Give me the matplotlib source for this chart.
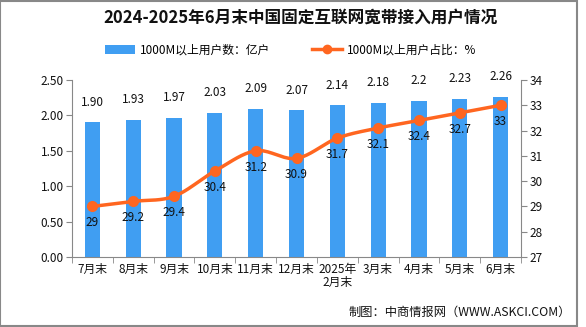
import matplotlib
matplotlib.use("Agg")
import matplotlib.pyplot as plt
import numpy as np
from matplotlib.patches import Rectangle
from matplotlib.lines import Line2D
from matplotlib.patches import Patch

plt.rcParams['font.family'] = ['Noto Sans CJK SC', 'DejaVu Sans']

categories = ["7月末", "8月末", "9月末", "10月末", "11月末", "12月末", "2025年\n2月末",
              "3月末", "4月末", "5月末", "6月末"]
users = [1.90, 1.93, 1.97, 2.03, 2.09, 2.07, 2.14, 2.18, 2.2, 2.23, 2.26]
user_labels = ["1.90", "1.93", "1.97", "2.03", "2.09", "2.07", "2.14", "2.18", "2.2", "2.23", "2.26"]
share = [29, 29.2, 29.4, 30.4, 31.2, 30.9, 31.7, 32.1, 32.4, 32.7, 33]
share_labels = ["29", "29.2", "29.4", "30.4", "31.2", "30.9", "31.7", "32.1", "32.4", "32.7", "33"]
left_ticks = [0.0, 0.5, 1.0, 1.5, 2.0, 2.5]
right_ticks = [27, 28, 29, 30, 31, 32, 33, 34]

bar_color = "#409EF2"
line_color = "#FF6620"
text_color = "#111111"

fig = plt.figure(figsize=(5.86, 3.27), dpi=100)
fig.patches.append(Rectangle((0, 0.003), 0.984, 0.994, transform=fig.transFigure,
                             fill=False, edgecolor="#888888", linewidth=1.5))

ax = fig.add_axes([72/586, 1-257/327, (521-72)/586, (257-80)/327])
x = np.arange(len(categories))
ax.bar(x, users, width=0.37, color=bar_color, zorder=2)
ax.set_xlim(-0.5, len(categories) - 0.5)
ax.set_ylim(0, 2.5)
ax.set_yticks(left_ticks)
ax.set_yticklabels([f"{v:.2f}" for v in left_ticks], fontsize=8.5, color=text_color)
for xi, v, lab in zip(x, users, user_labels):
    ax.annotate(lab, (xi, v), xytext=(0, 10), textcoords="offset points",
                ha="center", va="bottom", fontsize=8.5, color=text_color)

ax.set_xticks(x)
ax.set_xticklabels(categories, fontsize=8.5, color=text_color, linespacing=1.05, va="top")
ax.tick_params(axis="x", length=0, pad=4)
ax.set_xticks(np.arange(-0.5, len(categories), 1), minor=True)
ax.tick_params(axis="x", which="minor", length=4, color="#888888")
ax.tick_params(axis="y", length=4, color="#888888", pad=2)
for s in ["top", "right"]:
    ax.spines[s].set_visible(False)
for s in ["left", "bottom"]:
    ax.spines[s].set_color("#888888")

ax2 = ax.twinx()
ax2.set_ylim(27, 34)
ax2.set_yticks(right_ticks)
ax2.set_yticklabels([str(t) for t in right_ticks], fontsize=8.5, color=text_color)
ax2.tick_params(axis="y", length=4, color="#888888", pad=2)
for s in ["top", "left", "bottom"]:
    ax2.spines[s].set_visible(False)
ax2.spines["right"].set_color("#888888")

# smoothed line (Catmull-Rom through the data points)
xs, ys = [], []
pts = list(zip(x.astype(float), share))
n = len(pts)
for i in range(n - 1):
    p0 = pts[i - 1] if i > 0 else pts[i]
    p1 = pts[i]
    p2 = pts[i + 1]
    p3 = pts[i + 2] if i + 2 < n else pts[i + 1]
    for t in np.linspace(0, 1, 20, endpoint=False):
        t2, t3 = t * t, t * t * t
        for k, arr in ((0, xs), (1, ys)):
            arr.append(0.5 * ((2 * p1[k]) + (-p0[k] + p2[k]) * t +
                              (2 * p0[k] - 5 * p1[k] + 4 * p2[k] - p3[k]) * t2 +
                              (-p0[k] + 3 * p1[k] - 3 * p2[k] + p3[k]) * t3))
xs.append(pts[-1][0]); ys.append(pts[-1][1])
ax2.plot(xs, ys, color=line_color, linewidth=2.5, zorder=3, solid_capstyle="round")
ax2.plot(x, share, linestyle="none", marker="o", markersize=7, color=line_color, zorder=4)
for xi, v, lab in zip(x, share, share_labels):
    ax2.annotate(lab, (xi, v), xytext=(0, -7), textcoords="offset points",
                 ha="center", va="top", fontsize=8.5, color=text_color)

fig.text(0.512, 1 - 18/327, "2024-2025年6月末中国固定互联网宽带接入用户情况",
         ha="center", va="center", fontsize=12, fontweight="bold", color=text_color)

handles = [Patch(facecolor=bar_color, edgecolor="none"),
           Line2D([0], [0], color=line_color, linewidth=2.5, marker="o", markersize=6)]
fig.legend(handles, ["1000M以上用户数：亿户", "1000M以上用户占比：%"],
           loc="center", bbox_to_anchor=(0.496, 1 - 50/327), ncol=2, frameon=False,
           fontsize=8.5, handlelength=2.6, handleheight=0.9, columnspacing=3.5,
           handletextpad=0.4)

fig.text(571/586, 1 - 312/327, "制图：中商情报网（WWW.ASKCI.COM）",
         ha="right", va="center", fontsize=8.8, color=text_color)

fig.savefig("out.png", dpi=100)
